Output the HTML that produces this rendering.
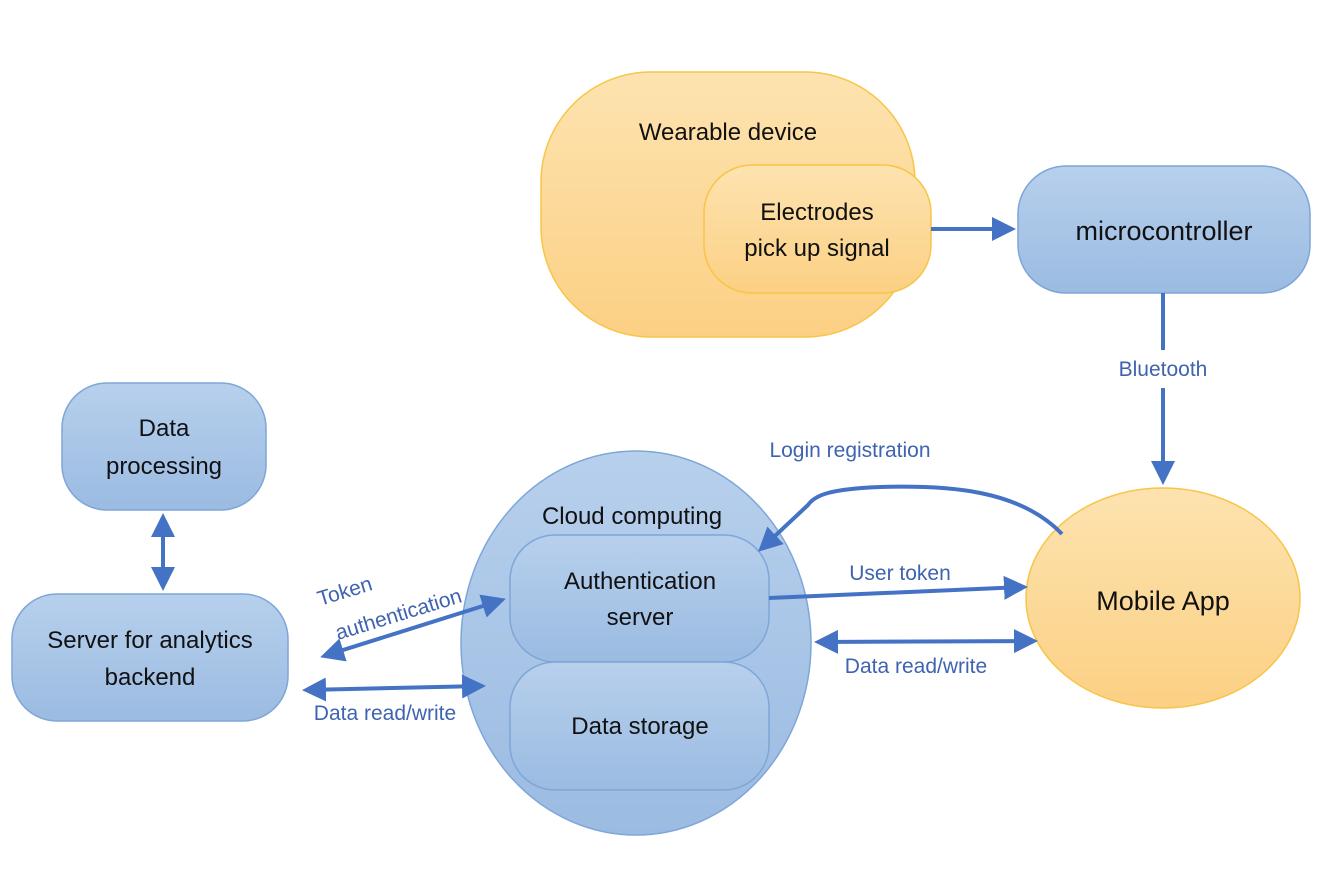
<!DOCTYPE html>
<html><head><meta charset="utf-8"><style>
html,body{margin:0;padding:0;background:#fff}
svg{display:block}
text{font-family:"Liberation Sans",Arial,sans-serif}
</style></head><body>
<svg width="1330" height="870" viewBox="0 0 1330 870" xmlns="http://www.w3.org/2000/svg">
<defs>
<linearGradient id="o" x1="0" y1="0" x2="0" y2="1"><stop offset="0" stop-color="#fde3b0"/><stop offset="1" stop-color="#fcd084"/></linearGradient>
<linearGradient id="b" x1="0" y1="0" x2="0" y2="1"><stop offset="0" stop-color="#b7d0ec"/><stop offset="1" stop-color="#9bbbe2"/></linearGradient>
<marker id="a" markerWidth="6" markerHeight="6" refX="5" refY="3" orient="auto" markerUnits="strokeWidth"><path d="M0,0 L6,3 L0,6 z" fill="#4472c4"/></marker>
<marker id="s" markerWidth="6" markerHeight="6" refX="1" refY="3" orient="auto" markerUnits="strokeWidth"><path d="M6,0 L0,3 L6,6 z" fill="#4472c4"/></marker>
</defs>
<rect x="541" y="72" width="374" height="265" rx="110" fill="url(#o)" stroke="#f7c548" stroke-width="1.5"/>
<rect x="704" y="165" width="227" height="128" rx="48" fill="url(#o)" stroke="#f7c548" stroke-width="1.5"/>
<text x="728" y="140" font-size="24" text-anchor="middle" fill="#111">Wearable device</text>
<text x="817" y="220" font-size="24" text-anchor="middle" fill="#111">Electrodes</text>
<text x="817" y="256" font-size="24" text-anchor="middle" fill="#111">pick up signal</text>
<rect x="1018" y="166" width="292" height="127" rx="48" fill="url(#b)" stroke="#7ea6d8" stroke-width="1.5"/>
<text x="1164" y="240" font-size="27" text-anchor="middle" fill="#111">microcontroller</text>
<ellipse cx="1163" cy="598" rx="137" ry="110" fill="url(#o)" stroke="#f7c548" stroke-width="1.5"/>
<text x="1163" y="610" font-size="27" text-anchor="middle" fill="#111">Mobile App</text>
<ellipse cx="636" cy="643" rx="175" ry="192" fill="url(#b)" stroke="#7ea6d8" stroke-width="1.5"/>
<text x="632" y="524" font-size="24" text-anchor="middle" fill="#111">Cloud computing</text>
<rect x="510" y="535" width="259" height="127" rx="45" fill="url(#b)" stroke="#7ea6d8" stroke-width="1.5"/>
<rect x="510" y="662" width="259" height="128" rx="45" fill="url(#b)" stroke="#7ea6d8" stroke-width="1.5"/>
<text x="640" y="589" font-size="24" text-anchor="middle" fill="#111">Authentication</text>
<text x="640" y="625" font-size="24" text-anchor="middle" fill="#111">server</text>
<text x="640" y="734" font-size="24" text-anchor="middle" fill="#111">Data storage</text>
<rect x="62" y="383" width="204" height="127" rx="45" fill="url(#b)" stroke="#7ea6d8" stroke-width="1.5"/>
<text x="164" y="436" font-size="24" text-anchor="middle" fill="#111">Data</text>
<text x="164" y="474" font-size="24" text-anchor="middle" fill="#111">processing</text>
<rect x="12" y="594" width="276" height="127" rx="45" fill="url(#b)" stroke="#7ea6d8" stroke-width="1.5"/>
<text x="150" y="648" font-size="24" text-anchor="middle" fill="#111">Server for analytics</text>
<text x="150" y="685" font-size="24" text-anchor="middle" fill="#111">backend</text>
<g stroke="#4472c4" stroke-width="4" fill="none">
<line x1="931" y1="229" x2="1012" y2="229" marker-end="url(#a)"/>
<line x1="1163" y1="293" x2="1163" y2="350"/>
<line x1="1163" y1="388" x2="1163" y2="481" marker-end="url(#a)"/>
<line x1="163" y1="517" x2="163" y2="587" marker-start="url(#s)" marker-end="url(#a)"/>
<line x1="324" y1="656" x2="502" y2="600" marker-start="url(#s)" marker-end="url(#a)"/>
<line x1="306" y1="690" x2="482" y2="686" marker-start="url(#s)" marker-end="url(#a)"/>
<line x1="769" y1="598" x2="1024" y2="587" marker-end="url(#a)"/>
<line x1="818" y1="642" x2="1034" y2="641" marker-start="url(#s)" marker-end="url(#a)"/>
<path d="M1062,534 C1020,490 950,485 880,487 C830,489 815,495 808,505 L761,549" marker-end="url(#a)"/>
</g>
<g fill="#3f63b0" font-size="21">
<text x="1163" y="376" text-anchor="middle">Bluetooth</text>
<text x="850" y="457" text-anchor="middle">Login registration</text>
<text x="900" y="580" text-anchor="middle">User token</text>
<text x="916" y="673" text-anchor="middle">Data read/write</text>
<text x="385" y="720" text-anchor="middle">Data read/write</text>
<text x="320" y="606" transform="rotate(-17 320 606)">Token</text>
<text x="338" y="640" transform="rotate(-17 338 640)">authentication</text>
</g>
</svg>
</body></html>
